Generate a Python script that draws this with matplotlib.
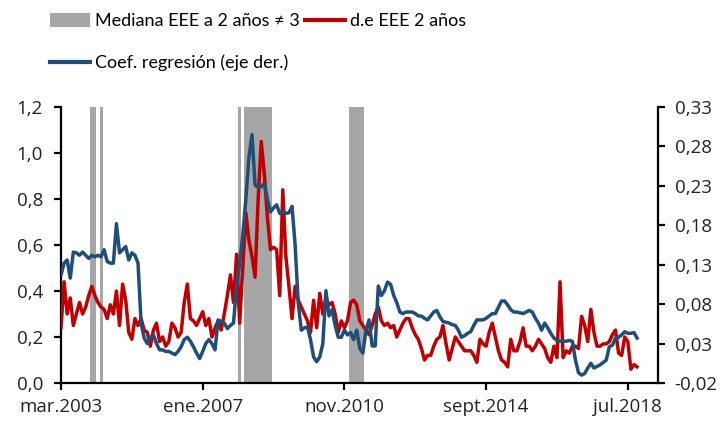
import numpy as np
import matplotlib
matplotlib.use("Agg")
import matplotlib.pyplot as plt
from matplotlib.ticker import FixedLocator, FuncFormatter
from matplotlib.patches import Patch
from matplotlib.lines import Line2D

plt.rcParams['font.family'] = ['Open Sans', 'DejaVu Sans']

# monthly data, mar.2003 -> oct.2018
tick_pos = [0, 46, 92, 138, 184]
tick_labels = ['mar.2003', 'ene.2007', 'nov.2010', 'sept.2014', 'jul.2018']

# d.e EEE 2 años (eje izq.)
de_eee = [
    0.24, 0.44, 0.30, 0.37, 0.25, 0.30, 0.35, 0.30, 0.33, 0.38,
    0.42, 0.38, 0.35, 0.33, 0.32, 0.28, 0.34, 0.30, 0.40, 0.25,
    0.43, 0.36, 0.22, 0.19, 0.28, 0.25, 0.28, 0.23, 0.22, 0.16,
    0.23, 0.26, 0.18, 0.20, 0.16, 0.18, 0.26, 0.24, 0.20, 0.22,
    0.35, 0.43, 0.28, 0.27, 0.25, 0.28, 0.31, 0.25, 0.28, 0.20,
    0.24, 0.27, 0.23, 0.30, 0.38, 0.47, 0.35, 0.56, 0.26, 0.50,
    0.74, 0.62, 0.55, 0.46, 0.80, 1.05, 0.91, 0.72, 0.58, 0.59,
    0.58, 0.38, 0.84, 0.55, 0.42, 0.28, 0.42, 0.36, 0.33, 0.30,
    0.27, 0.22, 0.36, 0.24, 0.39, 0.30, 0.37, 0.34, 0.35, 0.30,
    0.22, 0.27, 0.24, 0.27, 0.35, 0.36, 0.34, 0.27, 0.25, 0.23,
    0.21, 0.25, 0.30, 0.33, 0.27, 0.25, 0.26, 0.24, 0.25, 0.20,
    0.23, 0.26, 0.28, 0.28, 0.24, 0.21, 0.19, 0.15, 0.10, 0.12,
    0.12, 0.16, 0.19, 0.20, 0.25, 0.17, 0.10, 0.15, 0.20, 0.18,
    0.16, 0.14, 0.14, 0.14, 0.12, 0.09, 0.19, 0.17, 0.16, 0.22,
    0.26, 0.20, 0.14, 0.10, 0.09, 0.07, 0.19, 0.14, 0.14, 0.18,
    0.24, 0.16, 0.16, 0.14, 0.16, 0.19, 0.17, 0.15, 0.11, 0.09,
    0.16, 0.11, 0.44, 0.11, 0.14, 0.13, 0.16, 0.16, 0.15, 0.29,
    0.25, 0.18, 0.32, 0.22, 0.16, 0.16, 0.17, 0.17, 0.18, 0.21,
    0.23, 0.13, 0.12, 0.20, 0.18, 0.06, 0.08, 0.07,
]

# Coef. regresión (eje der.)
coef = [
    0.117, 0.132, 0.136, 0.113, 0.146, 0.145, 0.142, 0.146, 0.142, 0.138,
    0.142, 0.140, 0.142, 0.140, 0.149, 0.134, 0.132, 0.132, 0.182, 0.145,
    0.149, 0.153, 0.136, 0.145, 0.142, 0.132, 0.056, 0.037, 0.030, 0.038,
    0.041, 0.030, 0.022, 0.022, 0.020, 0.020, 0.018, 0.016, 0.020, 0.026,
    0.035, 0.038, 0.033, 0.026, 0.018, 0.011, 0.020, 0.030, 0.035, 0.030,
    0.022, 0.060, 0.058, 0.056, 0.049, 0.053, 0.056, 0.103, 0.132, 0.167,
    0.213, 0.266, 0.295, 0.231, 0.228, 0.229, 0.233, 0.213, 0.197, 0.202,
    0.206, 0.195, 0.197, 0.195, 0.196, 0.204, 0.155, 0.082, 0.047, 0.050,
    0.051, 0.035, 0.013, 0.007, 0.013, 0.030, 0.097, 0.065, 0.073, 0.053,
    0.038, 0.038, 0.047, 0.041, 0.044, 0.035, 0.047, 0.024, 0.018, 0.047,
    0.060, 0.027, 0.027, 0.103, 0.091, 0.097, 0.108, 0.105, 0.091, 0.082,
    0.070, 0.068, 0.070, 0.070, 0.070, 0.068, 0.065, 0.065, 0.062, 0.060,
    0.065, 0.070, 0.072, 0.064, 0.058, 0.057, 0.056, 0.054, 0.053, 0.047,
    0.038, 0.040, 0.043, 0.045, 0.053, 0.060, 0.060, 0.060, 0.062, 0.065,
    0.068, 0.068, 0.076, 0.084, 0.084, 0.079, 0.073, 0.070, 0.070, 0.069,
    0.068, 0.070, 0.072, 0.070, 0.062, 0.056, 0.047, 0.056, 0.050, 0.043,
    0.037, 0.034, 0.033, 0.033, 0.033, 0.034, 0.033, 0.009, -0.007, -0.010,
    -0.008, -0.001, 0.005, -0.001, 0.001, 0.003, 0.006, 0.009, 0.026, 0.028,
    0.037, 0.038, 0.041, 0.045, 0.043, 0.043, 0.044, 0.037,
]

# months where mediana EEE a 2 años != 3
mediana_ne3 = [10, 11, 13, 58, 60, 61, 62, 63, 64, 65, 66, 67, 68, 94, 95, 96, 97, 98]

RED = '#C00000'
BLUE = '#1F4E79'
GRAY = '#A6A6A6'

x = np.arange(len(de_eee))

fig = plt.figure(figsize=(7.26, 4.23), dpi=100)
ax = fig.add_axes([61/726, 40/423, 597/726, 276/423])
ax2 = ax.twinx()

ax.bar(mediana_ne3, [1.2]*len(mediana_ne3), width=1.0, color=GRAY, zorder=1)
ax.plot(x, de_eee, color=RED, lw=2.5, zorder=3)
ax2.plot(x, coef, color=BLUE, lw=2.5, zorder=3)

ax.set_xlim(0, 193.8)
ax.set_ylim(0, 1.2)
ax2.set_ylim(-0.02, 0.33)

ax.xaxis.set_major_locator(FixedLocator(tick_pos))
ax.set_xticklabels(tick_labels)
ax.set_yticks(np.arange(0, 1.21, 0.2))
ax2.set_yticks(np.arange(-0.02, 0.331, 0.05))
ax.yaxis.set_major_formatter(FuncFormatter(lambda v, p: f'{v:.1f}'.replace('.', ',')))
ax2.yaxis.set_major_formatter(FuncFormatter(lambda v, p: f'{v:.2f}'.replace('.', ',')))

for a in (ax, ax2):
    a.spines['top'].set_visible(False)
    for s in ('left', 'right', 'bottom'):
        a.spines[s].set_linewidth(1.6)
    a.tick_params(axis='both', direction='out', length=5, width=1.6,
                  labelsize=13.5, colors='black', labelcolor='#222222')
ax.tick_params(axis='y', pad=8)
ax.tick_params(axis='x', pad=6)
ax2.tick_params(axis='y', pad=7)
ax.spines['right'].set_visible(False)
ax2.spines['left'].set_visible(False)
ax2.spines['bottom'].set_visible(False)

handles = [Patch(facecolor=GRAY, edgecolor='none'),
           Line2D([], [], color=BLUE, lw=3),
           Line2D([], [], color=RED, lw=3)]
labels = ['Mediana EEE a 2 años ≠ 3', 'Coef. regresión (eje der.)', 'd.e EEE 2 años']
fig.legend(handles, labels, loc='upper left', bbox_to_anchor=(50/726, 1 - 13/423),
           ncol=2, frameon=False, handlelength=2.2, handleheight=0.8,
           handletextpad=0.3, columnspacing=0.3, labelspacing=1.42, borderpad=0,
           borderaxespad=0,
           prop={'family': ['Lato', 'DejaVu Sans'], 'size': 13})

fig.savefig('out.png', dpi=100)
